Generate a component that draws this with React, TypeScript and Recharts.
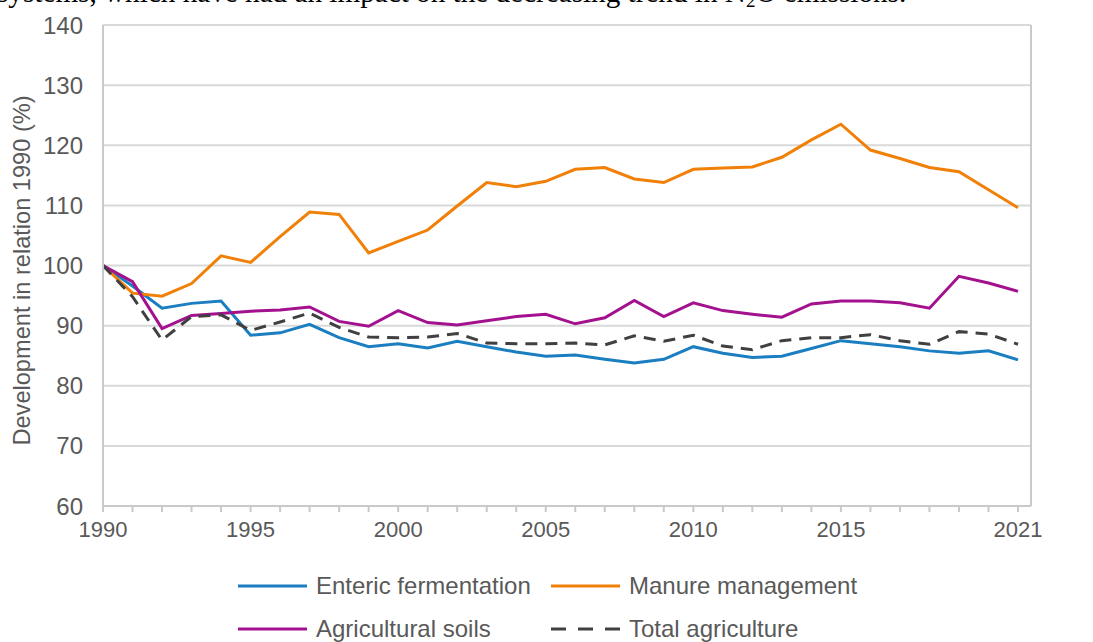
import React from 'react';
import { LineChart, Line, XAxis, YAxis, CartesianGrid } from 'recharts';

const years = [1990, 1991, 1992, 1993, 1994, 1995, 1996, 1997, 1998, 1999, 2000, 2001, 2002, 2003, 2004, 2005, 2006, 2007, 2008, 2009, 2010, 2011, 2012, 2013, 2014, 2015, 2016, 2017, 2018, 2019, 2020, 2021];
const enteric = [100, 96.6, 92.9, 93.7, 94.1, 88.4, 88.8, 90.2, 88.0, 86.5, 87.0, 86.3, 87.4, 86.5, 85.6, 84.9, 85.1, 84.4, 83.8, 84.4, 86.5, 85.4, 84.7, 84.9, 86.2, 87.5, 87.0, 86.5, 85.8, 85.4, 85.8, 84.3];
const manure = [100, 95.4, 94.9, 97.0, 101.6, 100.5, 104.8, 108.9, 108.5, 102.1, 104.0, 105.9, 109.9, 113.8, 113.1, 114.0, 116.0, 116.3, 114.4, 113.8, 116.0, 116.2, 116.4, 118.0, 120.9, 123.5, 119.2, 117.8, 116.3, 115.6, 112.6, 109.6];
const soils = [100, 97.3, 89.5, 91.7, 92.0, 92.4, 92.6, 93.1, 90.7, 89.9, 92.5, 90.5, 90.1, 90.8, 91.5, 91.9, 90.3, 91.3, 94.2, 91.5, 93.8, 92.5, 91.9, 91.4, 93.6, 94.1, 94.1, 93.8, 92.9, 98.2, 97.1, 95.7];
const total = [100, 94.8, 87.6, 91.5, 91.8, 89.2, 90.6, 92.1, 89.7, 88.1, 88.0, 88.1, 88.7, 87.1, 87.0, 87.0, 87.1, 86.8, 88.3, 87.4, 88.4, 86.6, 86.0, 87.5, 88.0, 88.0, 88.5, 87.5, 86.9, 89.0, 88.6, 86.9];
const yTicks = [60, 70, 80, 90, 100, 110, 120, 130, 140];
const xLabelYears = [1990, 1995, 2000, 2005, 2010, 2015, 2021];

const seriesNames = ['Enteric fermentation', 'Manure management', 'Agricultural soils', 'Total agriculture'];
const seriesColors = ['#1a7ec0', '#f08008', '#a3118e', '#404040'];

const data = years.map((y, i) => ({
  year: y,
  enteric: enteric[i],
  manure: manure[i],
  soils: soils[i],
  total: total[i],
}));

const FONT = '"Liberation Sans", Arial, sans-serif';
const TXT = '#595959';
const AXIS = '#c9c9c9';

const LegendBlock = () => {
  const pos = [
    { left: 238, top: 573 },
    { left: 551, top: 573 },
    { left: 238, top: 616 },
    { left: 551, top: 616 },
  ];
  return (
    <>
      {seriesNames.map((n, i) => (
        <div key={n} style={{ position: 'absolute', left: pos[i].left, top: pos[i].top, display: 'flex', alignItems: 'center', height: 26 }}>
          <svg width={70} height={6} style={{ display: 'block' }}>
            <line x1={0} y1={3} x2={69} y2={3} stroke={seriesColors[i]} strokeWidth={3} strokeDasharray={i === 3 ? '15 12' : undefined} />
          </svg>
          <span style={{ fontFamily: FONT, fontSize: 24, color: TXT, marginLeft: 8, whiteSpace: 'nowrap', lineHeight: '26px' }}>{n}</span>
        </div>
      ))}
    </>
  );
};

const YTitle = (props: any) => {
  const vb = props.viewBox || { x: 0, y: 25, width: 103, height: 481 };
  const cx = 22;
  const cy = vb.y + vb.height / 2 + 5;
  return (
    <text x={cx} y={cy} transform={`rotate(-90 ${cx} ${cy})`} textAnchor="middle" dominantBaseline="central" fill={TXT} fontFamily={FONT} fontSize={23.6}>
      Development in relation 1990 (%)
    </text>
  );
};

export default function App() {
  return (
    <div style={{ position: 'absolute', left: 0, top: 0, width: 1093, height: 642, background: '#fff', overflow: 'hidden' }}>
      <div style={{ position: 'absolute', left: -3, top: -22, fontFamily: '"Liberation Serif", "Times New Roman", serif', fontSize: 29.2, lineHeight: 1, color: '#000', whiteSpace: 'nowrap' }}>
        systems, which have had an impact on the decreasing trend in N<sub style={{ fontSize: 19, verticalAlign: -5, lineHeight: 1 }}>2</sub>O emissions.
      </div>
      <LineChart width={1093} height={642} data={data} margin={{ top: 25, right: 0, left: 0, bottom: 106 }} style={{ fontFamily: FONT }}>
        <CartesianGrid vertical={false} stroke="#d9d9d9" strokeWidth={2} yAxisId="left" />
        <XAxis
          dataKey="year"
          type="number"
          domain={[1990, 2021.44]}
          ticks={years}
          interval={0}
          allowDataOverflow
          tickFormatter={(v: number) => (xLabelYears.includes(v) ? String(v) : '')}
          stroke={AXIS}
          strokeWidth={2}
          tickSize={6}
          tickMargin={9}
          height={30}
          tick={{ fill: TXT, fontSize: 22, fontFamily: FONT }}
        />
        <YAxis
          yAxisId="left"
          domain={[60, 140]}
          ticks={yTicks}
          interval={0}
          width={103}
          stroke={AXIS}
          strokeWidth={2}
          tickLine={false}
          tickSize={0}
          tickMargin={20}
          tick={{ fill: TXT, fontSize: 24, fontFamily: FONT }}
          label={<YTitle />}
        />
        <YAxis
          yAxisId="right"
          orientation="right"
          domain={[60, 140]}
          ticks={yTicks}
          interval={0}
          width={62}
          stroke={AXIS}
          strokeWidth={2}
          tickLine={false}
          tickSize={0}
          tickMargin={9}
          tick={{ fill: TXT, fontSize: 24, fontFamily: FONT, textAnchor: 'start' }}
        />
        <Line yAxisId="left" type="linear" dataKey="enteric" name={seriesNames[0]} stroke={seriesColors[0]} strokeWidth={3} dot={false} isAnimationActive={false} />
        <Line yAxisId="left" type="linear" dataKey="manure" name={seriesNames[1]} stroke={seriesColors[1]} strokeWidth={3} dot={false} isAnimationActive={false} />
        <Line yAxisId="left" type="linear" dataKey="soils" name={seriesNames[2]} stroke={seriesColors[2]} strokeWidth={3} dot={false} isAnimationActive={false} />
        <Line yAxisId="left" type="linear" dataKey="total" name={seriesNames[3]} stroke={seriesColors[3]} strokeWidth={3} strokeDasharray="12 8" dot={false} isAnimationActive={false} />
      </LineChart>
      <LegendBlock />
    </div>
  );
}
